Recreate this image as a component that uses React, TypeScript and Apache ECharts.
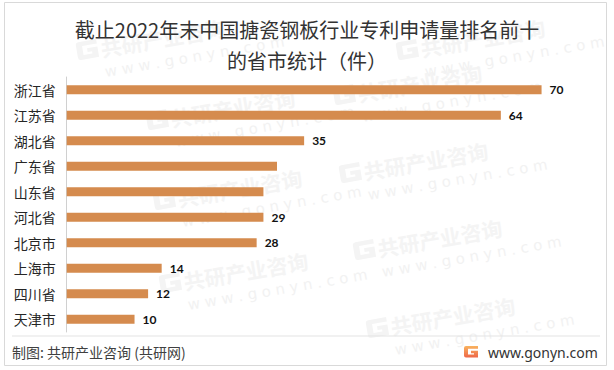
import React, { useEffect, useRef } from "react";
import * as echarts from "echarts";

const titleText = "截止2022年末中国搪瓷钢板行业专利申请量排名前十\n的省市统计（件）";
const categories = ["浙江省", "江苏省", "湖北省", "广东省", "山东省", "河北省", "北京市", "上海市", "四川省", "天津市"];
const values = [70, 64, 35, 31, 29, 29, 28, 14, 12, 10];
const unlabeled = ["广东省", "山东省"];
const sourceText = "制图: 共研产业咨询 (共研网)";
const siteText = "www.gonyn.com";
const watermarkMain = "共研产业咨询";
const watermarkSub = "w w w . g o n y n . c o m";

const CJK = '"Noto Sans CJK SC", "Noto Sans", sans-serif';

const watermarkSpots: [number, number][] = [
  [150, 40], [220, 110], [227, 190], [233, 273],
  [407, 85], [413, 163], [427, 240], [440, 318],
  [470, 40],
];

let registered = false;
function registerLogo() {
  if (registered) return;
  registered = true;
  echarts.graphic.registerShape(
    "gLogo",
    echarts.graphic.extendPath(
      "M0 2 Q0 0 2 0 L14 0 L14 3 L4 3 L4 9 L10 9 L10 7.5 L7 7.5 L7 5 L14 5 L14 12 L2 12 Q0 12 0 10 Z",
      {}
    ) as any
  );
}

export default function App() {
  const ref = useRef<HTMLDivElement>(null);

  useEffect(() => {
    if (!ref.current) return;
    registerLogo();
    const chart = echarts.init(ref.current, undefined, { renderer: "svg" });

    const watermarks = watermarkSpots.map(([x, y]) => ({
      type: "group",
      x,
      y,
      rotation: 0.17,
      silent: true,
      z: 0,
      children: [
        {
          type: "gLogo",
          x: -74,
          y: -10,
          scaleX: 1.5,
          scaleY: 1.5,
          style: { fill: "#f4f4f4" },
        },
        {
          type: "text",
          x: -50,
          y: 0,
          style: {
            text: watermarkMain,
            fill: "#f4f4f4",
            font: `bold 21px ${CJK}`,
            verticalAlign: "middle",
          },
        },
        {
          type: "text",
          x: -50,
          y: 24,
          style: {
            text: watermarkSub,
            fill: "#f2f2f2",
            font: `15px "DejaVu Sans", sans-serif`,
            verticalAlign: "middle",
          },
        },
      ],
    }));

    chart.setOption({
      animation: false,
      backgroundColor: "#ffffff",
      title: {
        text: titleText,
        left: "center",
        top: 9,
        textStyle: {
          fontSize: 20,
          lineHeight: 31,
          fontWeight: "normal",
          color: "#333333",
          fontFamily: CJK,
        },
      },
      grid: { left: 66.7, right: 4.6, top: 77, bottom: 38 },
      xAxis: {
        type: "value",
        min: 0,
        max: 80,
        show: false,
      },
      yAxis: {
        type: "category",
        inverse: true,
        data: categories,
        axisLine: { show: true, lineStyle: { color: "#d0d0d0", width: 1 } },
        axisTick: { show: false },
        axisLabel: {
          fontSize: 14,
          color: "#262626",
          fontFamily: CJK,
          margin: 11,
        },
      },
      series: [
        {
          type: "bar",
          z: 3,
          barWidth: 9,
          itemStyle: { color: "#D58B4E" },
          label: {
            show: true,
            position: "right",
            distance: 8,
            fontSize: 12,
            fontWeight: "bold",
            color: "#111111",
            fontFamily: 'Lato, "Open Sans", sans-serif',
          },
          data: values.map((v, i) => ({
            value: v,
            label: { show: !unlabeled.includes(categories[i]) },
          })),
        },
      ],
      graphic: [
        ...watermarks,
        {
          type: "rect",
          silent: true,
          z: 1,
          shape: { x: 4.5, y: 2.5, width: 602, height: 363 },
          style: { fill: "none", stroke: "#d9d9d9", lineWidth: 1 },
        },
        {
          type: "line",
          silent: true,
          z: 1,
          shape: { x1: 12, y1: 336, x2: 600, y2: 336 },
          style: { stroke: "#e3e3e3", lineWidth: 1 },
        },
        {
          type: "text",
          z: 5,
          x: 12,
          y: 352,
          style: {
            text: sourceText,
            fill: "#404040",
            font: `14px ${CJK}`,
            verticalAlign: "middle",
          },
        },
        {
          type: "gLogo",
          z: 5,
          x: 464,
          y: 346,
          scaleX: 1,
          scaleY: 0.95,
          style: {
            fill: new echarts.graphic.LinearGradient(0, 0, 0, 1, [
              { offset: 0, color: "#f9b35e" },
              { offset: 1, color: "#ee6748" },
            ]),
          },
        },
        {
          type: "text",
          z: 5,
          x: 488,
          y: 352,
          style: {
            text: siteText,
            fill: "#333333",
            font: `14px "Noto Sans", "DejaVu Sans", sans-serif`,
            verticalAlign: "middle",
          },
        },
      ],
    });

    return () => chart.dispose();
  }, []);

  return (
    <div
      ref={ref}
      style={{ position: "fixed", left: 0, top: 0, width: 614, height: 370 }}
    />
  );
}
